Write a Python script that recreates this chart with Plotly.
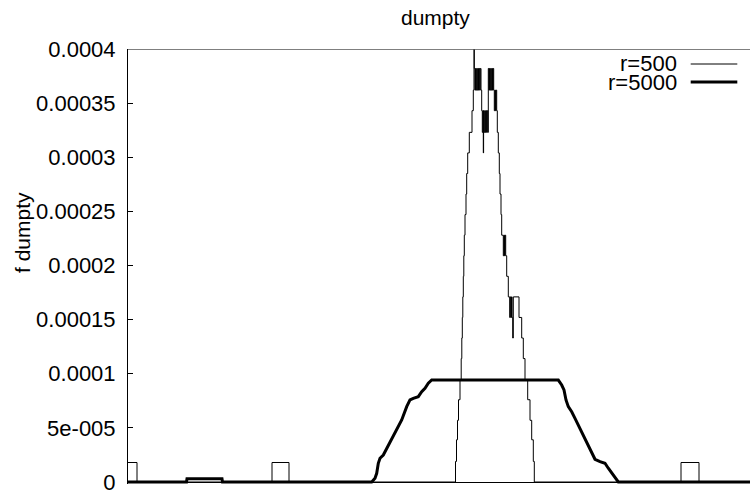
import plotly.graph_objects as go

# ---- data (x in arbitrary units, y in units of 1e-5) ----
r500_x = [128, 137, 272, 289, 455.5, 456.5, 457.5, 458.5, 460, 461.2,
          461.8, 462.3, 462.8, 463.3, 463.8, 464.3, 465, 466, 466.7, 467.7,
          469.3, 472, 473.3, 474, 474.3, 474.9, 475.5, 476.1, 476.7, 477.3,
          477.9, 478.5, 479.1, 479.7, 480.3, 481, 481.7, 482.3, 482.9, 483.3,
          483.6, 484.2, 484.8, 485.4, 486, 486.6, 487.2, 487.8, 488.3, 488.9,
          489.5, 490.1, 490.7, 491.3, 491.9, 492.5, 493.1, 493.7, 494.3, 494.9,
          495.5, 496.1, 496.7, 497.3, 498.3, 499.3, 500, 501, 501.7, 503.3,
          503.9, 504.5, 505.1, 505.7, 506.7, 508.3, 509.7, 510.3, 510.9, 511.5,
          512.1, 512.7, 513.3, 519, 521.7, 523.3, 525, 527.7, 530, 531.7,
          533.3, 534.3, 681, 699, 750]
r500_y = [1.8, 0, 1.8, 0, 1.9, 3.9, 5.7, 7.6, 9.4, 11.4,
          13.3, 15.2, 17.1, 19.0, 20.9, 22.8, 24.7, 26.6, 28.5, 30.4,
          32.3, 34.3, 36.2, 42.0, 38.2, 36.2, 38.2, 36.2, 38.2, 36.2,
          38.2, 36.2, 38.2, 36.2, 38.2, 36.2, 34.3, 32.3, 34.3, 30.4,
          34.3, 32.3, 34.3, 32.3, 34.3, 32.3, 34.3, 32.3, 38.2, 36.2,
          38.2, 36.2, 38.2, 36.2, 38.2, 36.2, 38.2, 36.2, 34.3, 36.2,
          34.3, 36.2, 34.3, 32.3, 30.4, 28.5, 26.6, 24.7, 22.8, 20.9,
          22.8, 20.9, 22.8, 20.9, 19.0, 17.1, 15.2, 17.1, 15.2, 17.1,
          15.2, 13.3, 17.1, 15.2, 13.3, 11.4, 9.4, 7.6, 5.7, 3.9,
          1.9, 0, 1.8, 0, 0]

r5000_x = [128, 186.5, 187, 222, 222.5, 371.7, 375, 376.7, 378.3, 380,
           383.3, 386.7, 391.7, 396.7, 401.7, 406.7, 410, 413.3, 418.3, 421.7,
           425, 428.3, 431.7, 558.3, 561.7, 564, 566, 568.3, 571.7, 575,
           578.3, 581.7, 585, 588.3, 591.7, 595, 600, 605, 608.3, 611.7,
           615, 618.3, 750]
r5000_y = [0, 0, 0.3, 0.3, 0, 0, 0.34, 0.80, 1.73, 2.19,
           2.49, 3.11, 3.88, 4.80, 5.73, 6.96, 7.58, 7.73, 7.88, 8.34,
           8.66, 9.12, 9.42, 9.42, 8.96, 8.50, 7.58, 6.96, 6.49, 5.88,
           5.27, 4.65, 4.04, 3.42, 2.65, 2.10, 1.88, 1.73, 1.27, 0.80,
           0.34, 0, 0]

series_names = ["r=500", "r=5000"]
y_tickvals = [0, 0.00005, 0.0001, 0.00015, 0.0002, 0.00025, 0.0003, 0.00035, 0.0004]
y_ticktext = ["0", "5e-005", "0.0001", "0.00015", "0.0002", "0.00025", "0.0003", "0.00035", "0.0004"]
title_text = "dumpty"
ylabel_text = "f dumpty"

assert len(r500_x) == len(r500_y)
assert len(r5000_x) == len(r5000_y)

UNIT = 1e-5
FONT = "Liberation Sans, Arial, sans-serif"

fig = go.Figure()
fig.add_trace(go.Scatter(x=r500_x, y=[v * UNIT for v in r500_y], mode="lines",
                         name=series_names[0], showlegend=False,
                         line=dict(color="black", width=1, shape="hv")))
fig.add_trace(go.Scatter(x=r5000_x, y=[v * UNIT for v in r5000_y], mode="lines",
                         name=series_names[1], showlegend=False,
                         line=dict(color="black", width=3)))

ymax = 0.0004
ymin = -1.848e-6

fig.update_layout(
    width=750, height=491,
    margin=dict(l=128, r=0, t=49, b=7, pad=0, autoexpand=False),
    paper_bgcolor="white", plot_bgcolor="white",
    font=dict(family=FONT, size=21, color="black"),
    xaxis=dict(range=[128, 750], showticklabels=False, showgrid=False,
               zeroline=False, showline=False, ticks="", automargin=False),
    yaxis=dict(range=[ymin, ymax], tickvals=y_tickvals, ticktext=y_ticktext,
               ticks="inside", ticklen=5, tickcolor="black", tickwidth=1,
               showline=True, linecolor="black", linewidth=1,
               zeroline=True, zerolinecolor="black", zerolinewidth=1,
               showgrid=False, ticklabelstandoff=7, ticklabeloverflow="allow",
               automargin=False,
               tickfont=dict(family=FONT, size=22, color="black")),
    showlegend=False,
)

# top border
fig.add_shape(type="line", xref="paper", x0=0, x1=1, yref="y", y0=ymax, y1=ymax,
              line=dict(color="#555555", width=1.5))

# title and y label
fig.add_annotation(text=title_text, xref="paper", yref="paper",
                   x=(435 - 128) / 622, y=(484 - 17) / 435,
                   xanchor="center", yanchor="middle", showarrow=False,
                   font=dict(family=FONT, size=21, color="black"))
fig.add_annotation(text=ylabel_text, xref="paper", yref="paper",
                   x=(22 - 128) / 622, y=(484 - 233) / 435, textangle=-90,
                   xanchor="center", yanchor="middle", showarrow=False,
                   font=dict(family=FONT, size=21, color="black"))

# manual key (text left of sample line, like gnuplot)
key_rows = [(64, 1), (82, 3)]
for name, (py, w) in zip(series_names, key_rows):
    yp = (484 - py) / 435
    fig.add_annotation(text=name, xref="x", yref="paper", x=678, y=yp,
                       xanchor="right", yanchor="middle", showarrow=False,
                       borderpad=0,
                       font=dict(family=FONT, size=22, color="black"))
    fig.add_shape(type="line", xref="x", x0=690.7, x1=737.3, yref="paper",
                  y0=yp, y1=yp, line=dict(color="black", width=w))

fig.write_html("out.html")
